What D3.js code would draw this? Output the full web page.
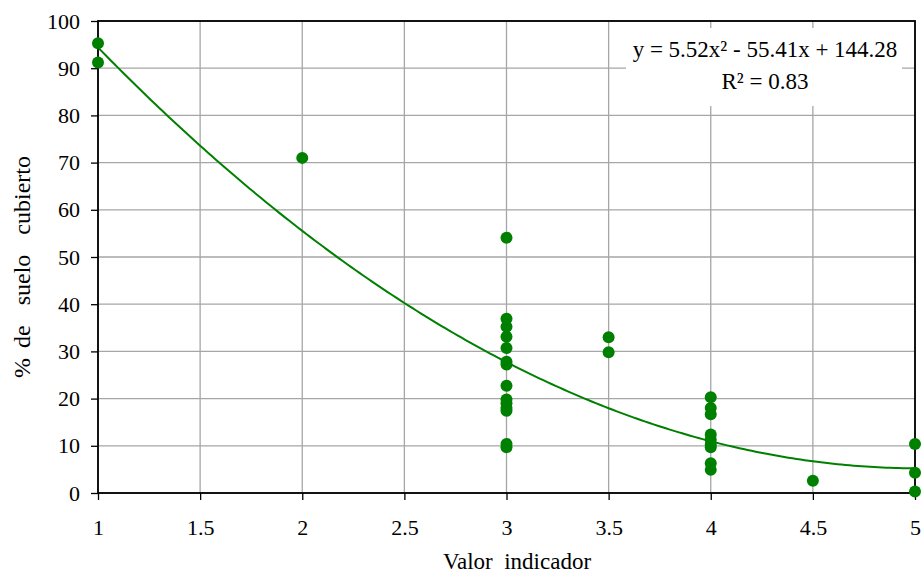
<!DOCTYPE html>
<html>
<head>
<meta charset="utf-8">
<script src="https://cdn.jsdelivr.net/npm/d3@7"></script>
<style>
  html, body { margin: 0; padding: 0; background: #fff; }
</style>
</head>
<body>
<svg id="chart" width="921" height="574"></svg>
<script>
// ---- data ----
const xValues = [1, 1, 2, 3, 3, 3, 3, 3, 3, 3, 3, 3, 3, 3, 3, 3, 3, 3.5, 3.5, 4, 4, 4, 4, 4, 4, 4, 4, 4, 4.5, 5, 5, 5];
const yValues = [95.3, 91.2, 71, 54.1, 36.9, 35.2, 33.1, 30.7, 27.8, 27.2, 22.7, 19.8, 19.0, 18.0, 17.4, 10.4, 9.7, 33.0, 29.8, 20.3, 18.0, 16.7, 12.4, 11.3, 10.2, 9.7, 6.3, 4.9, 2.6, 10.4, 4.3, 0.3];
const trendCoefficients = [5.52, -55.41, 144.28]; // a, b, c of y = a x^2 + b x + c
const xTicks = [1, 1.5, 2, 2.5, 3, 3.5, 4, 4.5, 5];
const yTicks = [0, 10, 20, 30, 40, 50, 60, 70, 80, 90, 100];
const equationLabel = "y = 5.52x² - 55.41x + 144.28";
const r2Label = "R² = 0.83";
const xTitle = "Valor  indicador";
const yTitle = "% de  suelo  cubierto";

// ---- layout ----
const FONT = "'Liberation Serif', 'Times New Roman', serif";
const pL = 98, pR = 915, pT = 21, pB = 493;
const svg = d3.select("#chart");
const x = d3.scaleLinear().domain([1, 5]).range([pL, pR]);
const y = d3.scaleLinear().domain([0, 100]).range([pB, pT]);
const green = "#008000";

// grid
svg.append("g").selectAll("line").data(xTicks).join("line")
  .attr("x1", d => x(d)).attr("x2", d => x(d)).attr("y1", pT).attr("y2", pB)
  .attr("stroke", "#a6a6a6").attr("stroke-width", 1.3);
svg.append("g").selectAll("line").data(yTicks).join("line")
  .attr("y1", d => y(d)).attr("y2", d => y(d)).attr("x1", pL).attr("x2", pR)
  .attr("stroke", "#a6a6a6").attr("stroke-width", 1.3);

// legend box (white) behind data
svg.append("rect").attr("x", 626).attr("y", 28).attr("width", 276).attr("height", 78).attr("fill", "#fff");

// axes
const xAxis = d3.axisBottom(x).tickValues(xTicks).tickSize(7).tickPadding(19).tickFormat(d3.format("~g"));
const yAxis = d3.axisLeft(y).tickValues(yTicks).tickSize(7).tickPadding(11).tickFormat(d3.format("~g"));
const gx = svg.append("g").attr("transform", `translate(0,${pB})`).call(xAxis);
const gy = svg.append("g").attr("transform", `translate(${pL},0)`).call(yAxis);
[gx, gy].forEach(g => {
  g.attr("font-family", null).attr("font-size", null);
  g.select(".domain").remove();
  g.selectAll(".tick line").attr("stroke", "#000").attr("stroke-width", 1.3);
  g.selectAll(".tick text").style("font-size", "22px").style("font-family", FONT).attr("fill", "#000");
});

// frame
svg.append("rect").attr("x", pL).attr("y", pT).attr("width", pR - pL).attr("height", pB - pT)
  .attr("fill", "none").attr("stroke", "#000").attr("stroke-width", 1.8);

// trend line
const [a, b, c] = trendCoefficients;
const xs = d3.range(0, 201).map(i => 1 + i * 4 / 200);
const line = d3.line().x(d => x(d)).y(d => y(a * d * d + b * d + c));
svg.append("path").datum(xs).attr("d", line).attr("fill", "none").attr("stroke", green).attr("stroke-width", 2);

// points
svg.append("g").selectAll("circle").data(xValues.map((v, i) => [v, yValues[i]])).join("circle")
  .attr("cx", d => x(d[0])).attr("cy", d => y(d[1])).attr("r", 6).attr("fill", green);

// legend text
svg.append("text").attr("x", 765).attr("y", 57).attr("text-anchor", "middle")
  .style("font-family", FONT).style("font-size", "23px").text(equationLabel);
svg.append("text").attr("x", 765).attr("y", 89).attr("text-anchor", "middle")
  .style("font-family", FONT).style("font-size", "23px").text(r2Label);

// titles
svg.append("text").attr("x", 517).attr("y", 569).attr("text-anchor", "middle")
  .style("font-family", FONT).style("font-size", "23px").style("white-space", "pre").text(xTitle);
svg.append("text").attr("transform", `translate(30,267) rotate(-90)`).attr("text-anchor", "middle")
  .style("font-family", FONT).style("font-size", "24px").style("white-space", "pre")
  .style("word-spacing", "4px").text(yTitle);
</script>
</body>
</html>
